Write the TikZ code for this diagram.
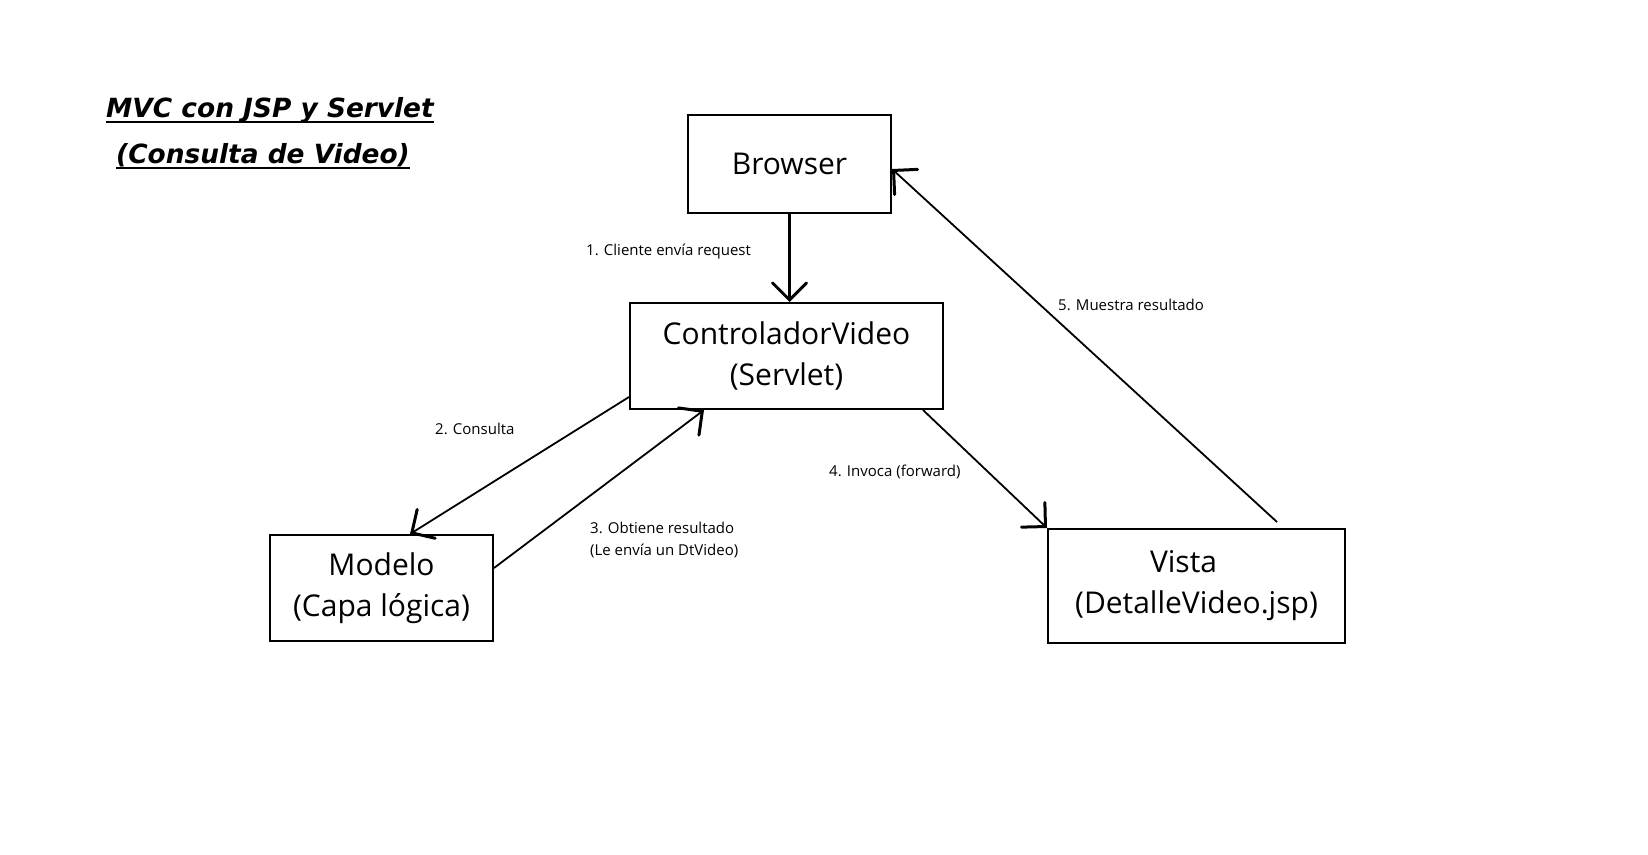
\documentclass[tikz,border=0pt]{standalone}
\usepackage{fontspec}
\setmainfont{Open Sans}
\newfontfamily\titulofont{DejaVu Sans}
\usetikzlibrary{arrows.meta}
\begin{document}
\begin{tikzpicture}[x=1pt,y=-1pt]
\tikzset{
    mvcCaja/.style={rectangle,draw=black,line width=2pt,align=center,font=\fontsize{30}{41}\selectfont},
    mvcEtiqueta/.style={anchor=west,align=left,inner sep=0pt,font=\fontsize{15}{22}\selectfont},
    mvcTitulo/.style={anchor=base west,inner sep=0pt,font=\titulofont\fontsize{26.4}{32}\selectfont\bfseries\itshape},
    mvcSubrayado/.style={line width=2pt},
    mvcFlecha/.style={line width=1.8pt,-{Straight Barb[length=17pt,width=34pt,line width=3pt,line cap=round]}},
}
\useasboundingbox[fill=white] (0,0) rectangle (1648,854);

\node[mvcTitulo] (titulo1) at (106,117) {MVC con JSP y Servlet};
\node[mvcTitulo] (titulo2) at (116,163) {(Consulta de Video)};
\draw[mvcSubrayado] ([yshift=-4.5pt]titulo1.base west) -- ([yshift=-4.5pt]titulo1.base east);
\draw[mvcSubrayado] ([yshift=-4.5pt]titulo2.base west) -- ([yshift=-4.5pt]titulo2.base east);

\node[mvcCaja,minimum width=203pt,minimum height=98pt] (Browser) at (789.5,164) {Browser};
\node[mvcCaja,minimum width=313pt,minimum height=106pt] (Controlador) at (786.5,356) {ControladorVideo\\(Servlet)};
\node[mvcCaja,minimum width=223pt,minimum height=106pt] (Modelo) at (381.5,588) {Modelo\\(Capa lógica)};
\node[mvcCaja,minimum width=297pt,minimum height=114pt] (Vista) at (1196.5,586) {Vista\hspace*{26pt}\\(DetalleVideo.jsp)};

\draw[mvcFlecha,line width=2.6pt] (Browser.south) -- (Browser.south |- Controlador.north);
\draw[mvcFlecha] ([yshift=13pt]Controlador.south west) -- ([xshift=28.5pt]Modelo.north);
\draw[mvcFlecha] ([yshift=20pt]Modelo.east) -- ([xshift=-82.5pt]Controlador.south);
\draw[mvcFlecha] ([xshift=136.5pt]Controlador.south) -- (Vista.north west);
\draw[mvcFlecha] ([xshift=80.5pt,yshift=6pt]Vista.north) -- ([yshift=-5pt]Browser.east);

\node[mvcEtiqueta] (et1) at (586,252) {1. Cliente envía request};
\node[mvcEtiqueta] (et2) at (435,429) {2. Consulta};
\node[mvcEtiqueta] (et3) at (590,540) {3. Obtiene resultado\\(Le envía un DtVideo)};
\node[mvcEtiqueta] (et4) at (829,472) {4. Invoca (forward)};
\node[mvcEtiqueta] (et5) at (1058,305) {5. Muestra resultado};
\end{tikzpicture}
\end{document}
